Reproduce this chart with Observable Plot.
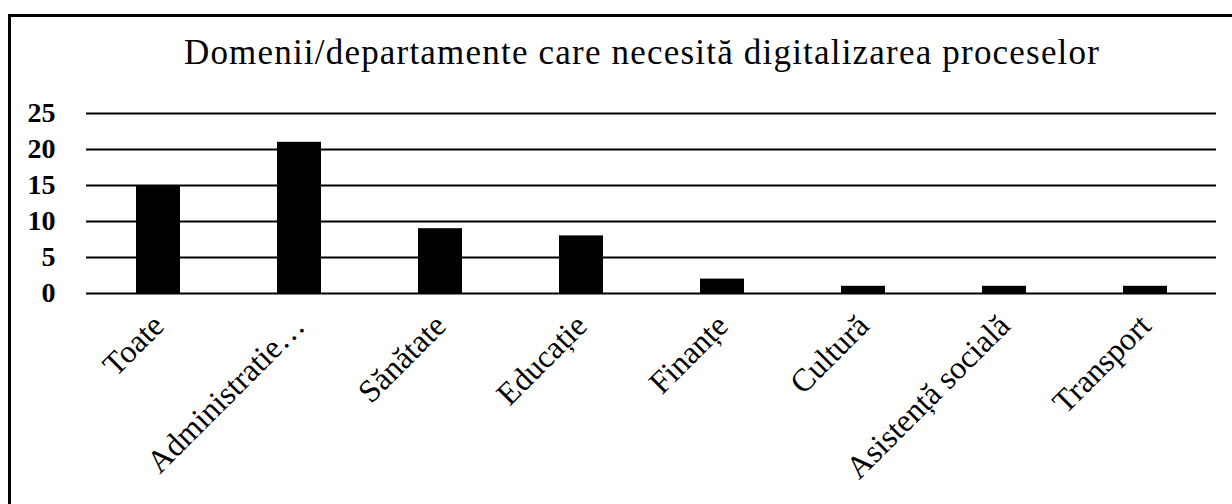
<!DOCTYPE html>
<html>
<head>
<meta charset="utf-8">
<script src="https://cdn.jsdelivr.net/npm/d3@7"></script>
<script src="https://cdn.jsdelivr.net/npm/@observablehq/plot@0.6"></script>
<style>
  html, body { margin: 0; padding: 0; background: #fff; width: 1232px; height: 504px; overflow: hidden; }
  #frame { position: absolute; left: 8px; top: 14px; width: 1240px; height: 520px; border-left: 3px solid #000; border-top: 3px solid #000; box-sizing: border-box; }
  #title { position: absolute; left: 642px; top: 35px; transform: translateX(-50%); white-space: nowrap;
           font-family: "Liberation Serif", "Times New Roman", serif; font-size: 35px; line-height: 35px; letter-spacing: 1.2px; color: #000; }
  #chart { position: absolute; left: 0; top: 90px; }
</style>
</head>
<body>
<div id="frame"></div>
<div id="title">Domenii/departamente care necesită digitalizarea proceselor</div>
<div id="chart"></div>
<script>
const categories = ["Toate", "Administratie…", "Sănătate", "Educație", "Finanțe", "Cultură", "Asistență socială", "Transport"];
const values = [15, 21, 9, 8, 2, 1, 1, 1];
const yTicks = [0, 5, 10, 15, 20, 25];

const data = categories.map((c, i) => ({category: c, value: values[i]}));

const chart = Plot.plot({
  width: 1232,
  height: 414,
  marginLeft: 86,
  marginRight: 16,
  marginTop: 23,
  marginBottom: 211,
  style: { fontFamily: "'Liberation Serif', 'Times New Roman', serif", background: "transparent", color: "#000" },
  x: { domain: categories, paddingInner: 0.69, paddingOuter: 0.345, label: null },
  y: { domain: [0, 25], label: null },
  marks: [
    Plot.ruleY(yTicks, { stroke: "#000", strokeWidth: 2 }),
    Plot.barY(data, { x: "category", y: "value", fill: "#000" }),
    Plot.axisY({ ticks: yTicks, tickSize: 0, tickPadding: 31, fontSize: 28, fontWeight: "bold", label: null }),
    Plot.axisX({ tickSize: 0, tickPadding: 27, tickRotate: -45, fontSize: 32, label: null })
  ]
});
document.getElementById("chart").appendChild(chart);
</script>
</body>
</html>
